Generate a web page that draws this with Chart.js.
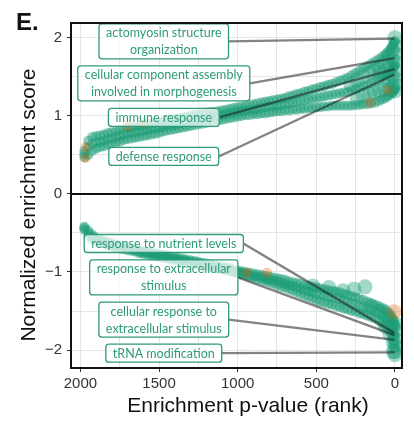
<!DOCTYPE html>
<html>
<head>
<meta charset="utf-8">
<script src="https://cdn.jsdelivr.net/npm/chart.js@4"></script>
<style>
  html, body { margin: 0; padding: 0; background: #fff; }
</style>
</head>
<body>
<canvas id="c" width="414" height="423"></canvas>
<script>
// ranks sampled along the two bands (rank 0 = most significant)
const ranks = [1975,1950,1925,1900,1875,1850,1825,1800,1775,1750,
               1725,1700,1675,1650,1625,1600,1575,1550,1525,1500,
               1475,1450,1425,1400,1375,1350,1325,1300,1275,1250,
               1225,1200,1175,1150,1125,1100,1075,1050,1025,1000,
               975,950,925,900,875,850,825,800,775,750,
               725,700,675,650,625,600,575,550,525,500,
               475,450,425,400,375,350,325,300,275,250,
               225,200,175,150,125,100,80,60,45,30,
               20,10,5,0];

// positive NES band: upper edge, middle, lower edge
const posHigh = [0.55,0.68,0.73,0.74,0.75,0.76,0.78,0.79,0.80,0.82,
                 0.83,0.84,0.85,0.86,0.87,0.88,0.89,0.90,0.91,0.92,
                 0.93,0.94,0.95,0.96,0.97,0.98,0.99,1.00,1.01,1.02,
                 1.03,1.04,1.05,1.05,1.06,1.07,1.08,1.09,1.10,1.11,
                 1.12,1.13,1.14,1.15,1.16,1.17,1.18,1.19,1.20,1.21,
                 1.22,1.23,1.25,1.26,1.28,1.29,1.31,1.32,1.34,1.35,
                 1.37,1.38,1.40,1.41,1.43,1.45,1.47,1.49,1.52,1.55,
                 1.58,1.61,1.64,1.67,1.70,1.73,1.76,1.79,1.82,1.85,
                 1.88,1.91,1.94,1.96];
const posMid  = [0.51,0.60,0.64,0.66,0.67,0.68,0.70,0.71,0.73,0.74,
                 0.76,0.77,0.78,0.79,0.80,0.81,0.82,0.83,0.84,0.85,
                 0.86,0.87,0.88,0.89,0.90,0.91,0.92,0.93,0.94,0.95,
                 0.96,0.97,0.98,0.99,1.00,1.01,1.02,1.03,1.04,1.05,
                 1.06,1.07,1.08,1.08,1.09,1.10,1.11,1.12,1.12,1.13,
                 1.14,1.15,1.16,1.17,1.18,1.19,1.20,1.21,1.22,1.23,
                 1.24,1.25,1.26,1.27,1.28,1.29,1.30,1.31,1.33,1.34,
                 1.36,1.38,1.40,1.42,1.44,1.46,1.49,1.51,1.54,1.56,
                 1.58,1.61,1.63,1.65];
const posLow  = [0.47,0.50,0.55,0.58,0.60,0.61,0.63,0.64,0.66,0.67,
                 0.69,0.70,0.71,0.72,0.73,0.74,0.75,0.76,0.77,0.78,
                 0.80,0.81,0.82,0.83,0.84,0.85,0.86,0.87,0.88,0.89,
                 0.90,0.91,0.92,0.93,0.94,0.95,0.96,0.97,0.98,0.99,
                 1.00,1.01,1.01,1.02,1.02,1.03,1.03,1.04,1.05,1.06,
                 1.06,1.07,1.07,1.08,1.08,1.09,1.09,1.10,1.10,1.11,
                 1.11,1.12,1.12,1.13,1.13,1.13,1.13,1.13,1.13,1.14,
                 1.14,1.15,1.15,1.16,1.17,1.19,1.21,1.23,1.25,1.27,
                 1.29,1.31,1.33,1.34];

// negative NES band
const negHigh = [-0.42,-0.47,-0.52,-0.56,-0.58,-0.60,-0.62,-0.63,-0.65,-0.66,
                 -0.68,-0.69,-0.70,-0.71,-0.72,-0.73,-0.74,-0.75,-0.76,-0.77,
                 -0.78,-0.79,-0.80,-0.81,-0.82,-0.83,-0.84,-0.85,-0.86,-0.87,
                 -0.88,-0.89,-0.90,-0.91,-0.92,-0.93,-0.94,-0.95,-0.97,-0.98,
                 -0.99,-1.00,-1.01,-1.02,-1.03,-1.04,-1.05,-1.06,-1.07,-1.08,
                 -1.09,-1.10,-1.12,-1.13,-1.14,-1.15,-1.17,-1.18,-1.19,-1.20,
                 -1.21,-1.22,-1.23,-1.24,-1.25,-1.26,-1.28,-1.29,-1.31,-1.32,
                 -1.34,-1.36,-1.38,-1.40,-1.42,-1.44,-1.46,-1.48,-1.51,-1.54,
                 -1.57,-1.62,-1.65,-1.68];
const negMid  = [-0.44,-0.50,-0.55,-0.58,-0.60,-0.62,-0.64,-0.65,-0.67,-0.68,
                 -0.69,-0.70,-0.71,-0.72,-0.74,-0.75,-0.76,-0.77,-0.78,-0.79,
                 -0.80,-0.81,-0.82,-0.83,-0.84,-0.85,-0.86,-0.87,-0.88,-0.89,
                 -0.90,-0.91,-0.92,-0.93,-0.94,-0.95,-0.96,-0.97,-0.99,-1.00,
                 -1.01,-1.02,-1.04,-1.05,-1.06,-1.07,-1.09,-1.10,-1.11,-1.12,
                 -1.14,-1.15,-1.17,-1.18,-1.20,-1.21,-1.23,-1.25,-1.26,-1.28,
                 -1.29,-1.30,-1.32,-1.33,-1.34,-1.35,-1.37,-1.38,-1.40,-1.41,
                 -1.43,-1.45,-1.47,-1.49,-1.51,-1.53,-1.56,-1.58,-1.61,-1.65,
                 -1.69,-1.74,-1.78,-1.82];
const negLow  = [-0.46,-0.54,-0.59,-0.61,-0.63,-0.64,-0.66,-0.67,-0.69,-0.70,
                 -0.71,-0.72,-0.73,-0.74,-0.76,-0.77,-0.78,-0.79,-0.80,-0.81,
                 -0.82,-0.83,-0.84,-0.85,-0.86,-0.87,-0.88,-0.89,-0.90,-0.91,
                 -0.92,-0.93,-0.94,-0.95,-0.96,-0.97,-0.98,-0.99,-1.01,-1.02,
                 -1.03,-1.04,-1.06,-1.07,-1.09,-1.10,-1.12,-1.13,-1.15,-1.17,
                 -1.19,-1.20,-1.22,-1.24,-1.26,-1.28,-1.30,-1.32,-1.34,-1.36,
                 -1.38,-1.39,-1.41,-1.42,-1.44,-1.45,-1.47,-1.48,-1.50,-1.51,
                 -1.53,-1.54,-1.56,-1.58,-1.60,-1.63,-1.66,-1.69,-1.72,-1.77,
                 -1.81,-1.87,-1.92,-1.98];

// large terms near the top ranks
const posEndRank = [0,0,0,0,0,0,0,0,15,15,15,15,40,40,40,40,70,70,70,100,100,100,130,130,160,160,200,200,240,240,280];
const posEndNes  = [2.00,1.90,1.80,1.70,1.58,1.48,1.40,1.32,1.84,1.72,1.50,1.38,1.76,1.66,1.45,1.34,1.68,1.58,1.34,1.62,1.55,1.32,1.58,1.30,1.55,1.28,1.50,1.26,1.46,1.22,1.40];
const negEndRank = [0,0,0,0,0,0,10,10,10,30,30,60,60,100,150,190,260,330,420,520];
const negEndNes  = [-1.66,-1.76,-1.86,-1.94,-2.02,-2.06,-1.70,-1.90,-2.02,-1.62,-1.80,-1.55,-1.70,-1.50,-1.44,-1.19,-1.22,-1.24,-1.20,-1.18];

// second group (orange)
const orangeRank = [1968,1968,1700,1600,940,813,159,44,5];
const orangeNes  = [0.60,0.46,0.87,0.91,-1.01,-1.01,1.17,1.33,-1.51];

// labelled terms and the point each label points to
const terms = ["actomyosin structure\norganization", "cellular component assembly\ninvolved in morphogenesis", "immune response", "defense response",
               "response to nutrient levels", "response to extracellular\nstimulus", "cellular response to\nextracellular stimulus", "tRNA modification"];
const termRank = [3,3,3,3,3,3,3,3];
const termNes  = [1.99,1.74,1.60,1.53,-1.78,-1.81,-1.87,-2.03];

// where the label boxes sit (data coords of box centre)
const boxLayout = { rank: 1470, nes: [1.955,1.417,0.98,0.48,-0.635,-1.07,-1.61,-2.04], pad: 7, lineH: 17 };

const green = 'rgba(27,158,119,0.5)';
const greenBig = 'rgba(27,158,119,0.4)';
const orange = 'rgba(217,95,2,0.33)';
const labelGreen = '#2e9b7b';

function pts(xs, ys) {
  return xs.map((x, i) => ({ x: x, y: ys[i] }));
}

const labelPlugin = {
  id: 'termLabels',
  afterDatasetsDraw(chart) {
    const ctx = chart.ctx, xs = chart.scales.x, ys = chart.scales.y;
    ctx.save();
    ctx.font = '12.5px Lato';
    const boxes = terms.map((t, i) => {
      const lines = t.split('\n');
      const w = Math.max(...lines.map(l => ctx.measureText(l).width)) + 2 * boxLayout.pad;
      const h = lines.length * boxLayout.lineH + 1;
      const cx = xs.getPixelForValue(boxLayout.rank), cy = ys.getPixelForValue(boxLayout.nes[i]);
      return { lines: lines, x: cx - w / 2, y: cy - h / 2, w: w, h: h, cy: cy };
    });
    // connecting segments
    ctx.strokeStyle = 'rgba(30,30,30,0.55)';
    ctx.lineWidth = 2.4;
    boxes.forEach((b, i) => {
      ctx.beginPath();
      ctx.moveTo(b.x + b.w, b.cy);
      ctx.lineTo(xs.getPixelForValue(termRank[i]), ys.getPixelForValue(termNes[i]));
      ctx.stroke();
    });
    // boxes
    boxes.forEach(b => {
      ctx.beginPath();
      ctx.roundRect(b.x, b.y, b.w, b.h, 3);
      ctx.fillStyle = 'rgba(255,255,255,0.72)';
      ctx.fill();
      ctx.strokeStyle = labelGreen;
      ctx.lineWidth = 1.3;
      ctx.stroke();
      ctx.fillStyle = labelGreen;
      ctx.textAlign = 'center';
      ctx.textBaseline = 'middle';
      b.lines.forEach((l, j) => ctx.fillText(l, b.x + b.w / 2, b.y + boxLayout.lineH / 2 + 1 + j * boxLayout.lineH));
    });
    // panel borders
    const a = chart.chartArea;
    ctx.strokeStyle = '#111';
    ctx.lineWidth = 2;
    ctx.strokeRect(a.left, a.top, a.right - a.left, a.bottom - a.top);
    const y0 = ys.getPixelForValue(0);
    ctx.beginPath();
    ctx.moveTo(a.left, y0);
    ctx.lineTo(a.right, y0);
    ctx.stroke();
    ctx.restore();
  },
  afterDraw(chart) {
    const ctx = chart.ctx;
    ctx.save();
    ctx.fillStyle = '#111';
    ctx.font = 'bold 24px "Liberation Sans"';
    ctx.textAlign = 'left';
    ctx.textBaseline = 'alphabetic';
    ctx.fillText('E.', 16, 30);
    ctx.font = '21px "Liberation Sans"';
    ctx.textAlign = 'center';
    ctx.fillText('Enrichment p-value (rank)', 248, 412);
    ctx.translate(35, 205);
    ctx.rotate(-Math.PI / 2);
    ctx.fillText('Normalized enrichment score', 0, 0);
    ctx.restore();
  }
};

const tickFont = { family: 'Liberation Sans', size: 15 };

new Chart(document.getElementById('c'), {
  type: 'scatter',
  data: {
    datasets: [
      { data: pts(orangeRank, orangeNes), backgroundColor: orange, pointRadius: [5,5,5,5,5,5,5,5,7.5] },
      { data: pts(posEndRank, posEndNes), backgroundColor: greenBig, pointRadius: 7.5 },
      { data: pts(negEndRank, negEndNes), backgroundColor: greenBig, pointRadius: 7.5 },
      { data: pts(ranks, posHigh), backgroundColor: green, pointRadius: 5 },
      { data: pts(ranks, posMid), backgroundColor: green, pointRadius: 5 },
      { data: pts(ranks, posLow), backgroundColor: green, pointRadius: 5 },
      { data: pts(ranks, negHigh), backgroundColor: green, pointRadius: 5 },
      { data: pts(ranks, negMid), backgroundColor: green, pointRadius: 5 },
      { data: pts(ranks, negLow), backgroundColor: green, pointRadius: 5 }
    ]
  },
  options: {
    responsive: false,
    animation: false,
    devicePixelRatio: 1,
    layout: { padding: { top: 23, right: 12, left: 0, bottom: 0 } },
    plugins: { legend: { display: false }, tooltip: { enabled: false } },
    elements: { point: { borderWidth: 0, hoverRadius: 0 } },
    scales: {
      x: {
        type: 'linear', reverse: true, min: -45, max: 2060,
        afterFit(s) { s.height = 55; },
        border: { display: false },
        grid: { color: '#e6e6e6', tickLength: 4,
                tickColor: c => (c.tick && c.tick.value % 500 === 0) ? '#333' : 'rgba(0,0,0,0)' },
        ticks: { stepSize: 250, includeBounds: false, autoSkip: false, maxRotation: 0, padding: 3,
                 color: '#333', font: tickFont,
                 callback: v => v % 500 === 0 ? String(v) : '' }
      },
      y: {
        type: 'linear', min: -2.23, max: 2.19,
        afterFit(s) { s.width = 71; },
        border: { display: false },
        grid: { color: '#e6e6e6', tickLength: 4,
                tickColor: c => (c.tick && Math.abs(c.tick.value - Math.round(c.tick.value)) < 1e-6) ? '#333' : 'rgba(0,0,0,0)' },
        ticks: { stepSize: 0.5, includeBounds: false, autoSkip: false, padding: 5,
                 color: '#333', font: tickFont,
                 callback: v => {
                   if (Math.abs(v - Math.round(v)) > 1e-6) return '';
                   const r = Math.round(v);
                   return r < 0 ? '\u2212' + Math.abs(r) : String(r);
                 } }
      }
    }
  },
  plugins: [labelPlugin]
});
</script>
</body>
</html>
